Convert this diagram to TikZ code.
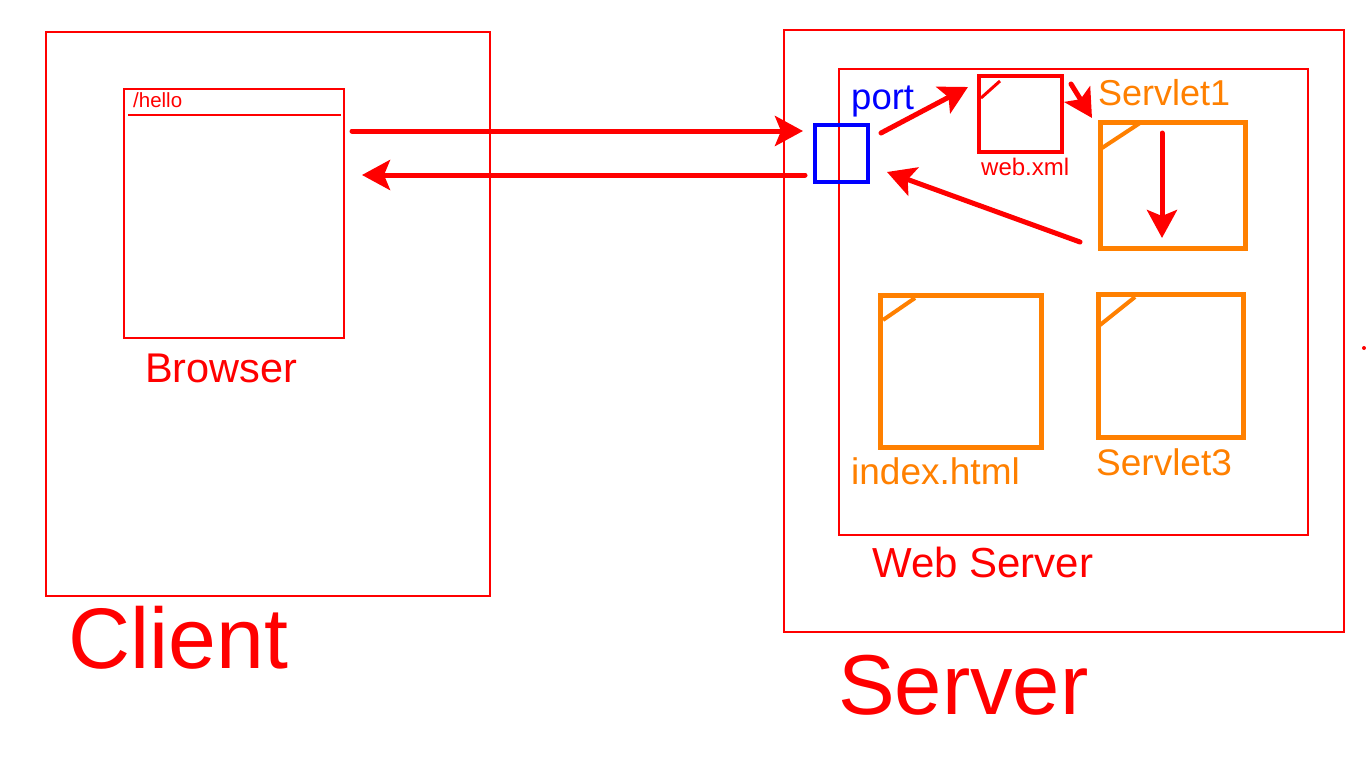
\documentclass[tikz,border=0pt]{standalone}
\usepackage{fontspec}
\setmainfont{Liberation Sans}
\usetikzlibrary{arrows.meta,calc}
\definecolor{cred}{RGB}{255,0,0}
\definecolor{corange}{RGB}{255,128,0}
\definecolor{cblue}{RGB}{0,0,255}
\tikzset{
  box/.style={draw=cred,line width=1.6pt,rectangle,inner sep=0pt,outer sep=0pt},
  filebox/.style={draw=corange,line width=5pt,rectangle,inner sep=0pt,outer sep=0pt},
  redfile/.style={draw=cred,line width=4pt,rectangle,inner sep=0pt,outer sep=0pt},
  portbox/.style={draw=cblue,line width=4pt,rectangle,inner sep=0pt,outer sep=0pt},
  flow/.style={draw=cred,line width=5pt,line cap=round,-{Stealth[length=28pt,width=30pt,inset=6pt]}},
  lbl/.style={anchor=base west,inner sep=0pt,text=cred},
  fs/.style={font=\fontsize{#1}{#1}\selectfont}
}
\begin{document}
\begin{tikzpicture}[x=1pt,y=-1pt]
\useasboundingbox (0,0) rectangle (1366,768);
\fill[white] (0,0) rectangle (1366,768);
% containers
\node[box,minimum width=444pt,minimum height=564pt] (client) at (268,314) {};
\node[box,minimum width=220pt,minimum height=249pt] (browser) at (234,213.5) {};
\node[box,minimum width=560pt,minimum height=602pt] (server) at (1064,331) {};
\node[box,minimum width=469pt,minimum height=466pt] (webserver) at (1073.5,302) {};
% browser title bar
\draw[cred,line width=1.6pt] ($(browser.north west)+(4,26)$) coordinate (bl) -- ($(browser.north east)+(-3,26)$) coordinate (br);
% files
\node[portbox,minimum width=53pt,minimum height=57pt] (port) at (841.5,153.5) {};
\node[redfile,minimum width=83pt,minimum height=76pt] (webxml) at (1020.5,114) {};
\node[filebox,minimum width=145pt,minimum height=126pt] (servlet1) at (1172.5,185) {};
\node[filebox,minimum width=161pt,minimum height=152pt] (index) at (960.5,371) {};
\node[filebox,minimum width=145pt,minimum height=143pt] (servlet3) at (1170.5,365.5) {};
% folded corners
\draw[cred,line width=3pt] ($(webxml.north west)+(2,22)$) -- ($(webxml.north west)+(21,5)$);
\draw[corange,line width=4pt] ($(servlet1.north west)+(2,26)$) -- ($(servlet1.north west)+(40,1)$);
\draw[corange,line width=4pt] ($(index.north west)+(3,25)$) -- ($(index.north west)+(35,3)$);
\draw[corange,line width=4pt] ($(servlet3.north west)+(2,31)$) -- ($(servlet3.north west)+(37,3)$);
% labels
\node[lbl,fs=20.5] (hello) at (133,107) {/hello};
\node[lbl,fs=41.5] (browserlbl) at (145,382) {Browser};
\node[lbl,fs=42] (wslbl) at (872,577) {Web Server};
\node[lbl,fs=86] (clientlbl) at (68,668) {Client};
\node[lbl,fs=85] (serverlbl) at (838,714) {Server};
\node[lbl,fs=36.5,text=cblue] (portlbl) at (851,110) {port};
\node[lbl,fs=24] (webxmllbl) at (981,175) {web.xml};
\node[lbl,fs=36,text=corange] (s1lbl) at (1098,106) {Servlet1};
\node[lbl,fs=37,text=corange] (indexlbl) at (851,484) {index.html};
\node[lbl,fs=37,text=corange] (s3lbl) at (1096,475) {Servlet3};
% connectors
\draw[flow] ($(browser.north east)+(8,42)$) -- ($(port.north west)+(-12,6)$);
\draw[flow] ($(port.south west)+(-10,-7)$) -- ($(browser.north east)+(18,86)$);
\draw[flow] ($(port.north east)+(13,8)$) -- ($(webxml.north west)+(-11,11)$);
\draw[flow] ($(webxml.north east)+(9,8)$) -- ($(servlet1.north west)+(-8,-4)$);
\draw[flow] ($(servlet1.north)+(-10.5,11)$) -- ($(servlet1.south)+(-10.5,-10)$);
\draw[flow] ($(servlet1.south west)+(-20,-6)$) -- ($(port.south east)+(19,-10)$);
% stray dot
\fill[cred] (1364,348) circle (2pt);
\end{tikzpicture}
\end{document}
